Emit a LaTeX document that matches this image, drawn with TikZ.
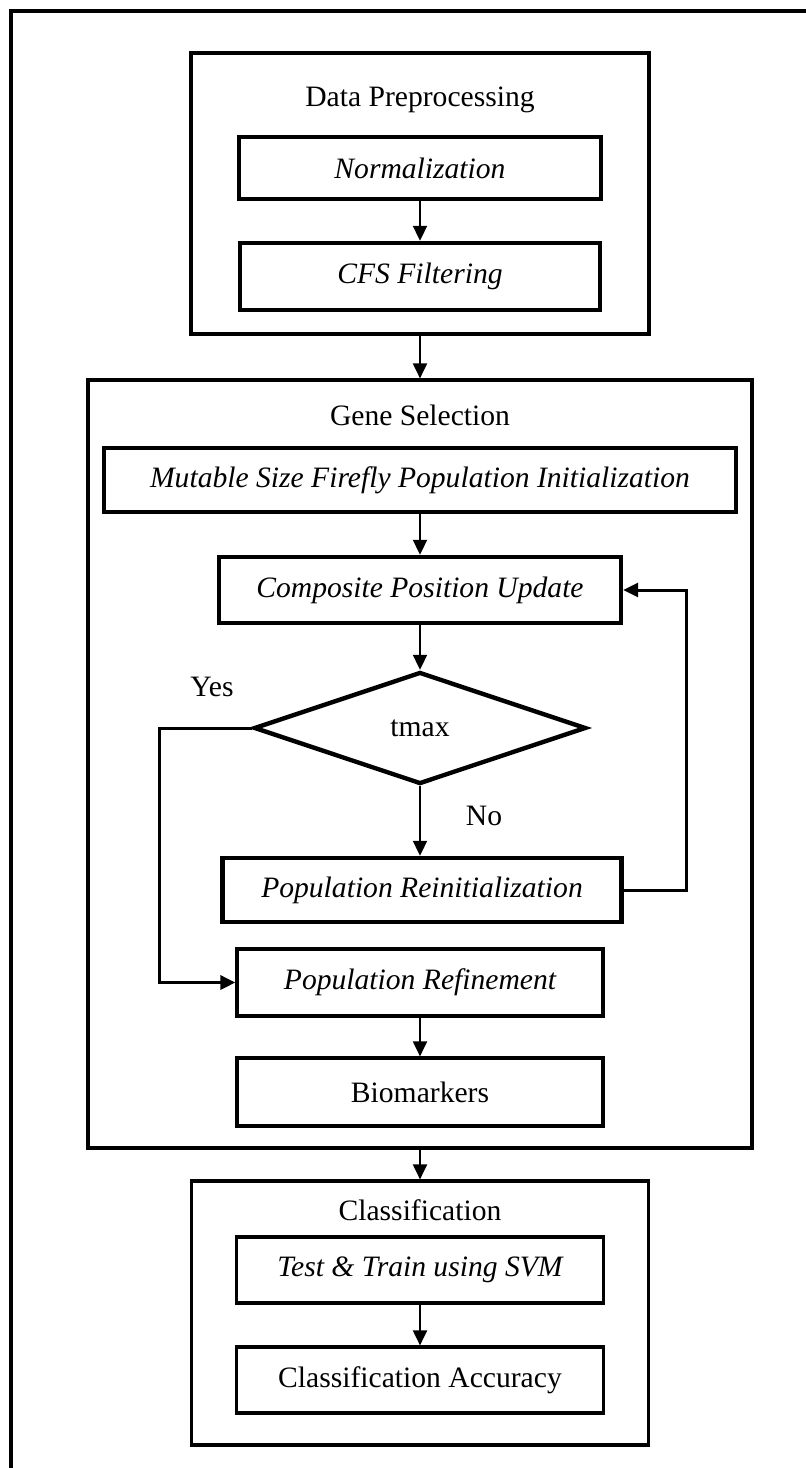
\documentclass[tikz,border=0pt]{standalone}
\usepackage{fontspec}
\setmainfont{Liberation Serif}
\usetikzlibrary{arrows.meta,positioning,shapes.geometric}

\begin{document}
\fontsize{14.8}{17}\selectfont
\begin{tikzpicture}[
    x=0.5pt, y=-0.5pt, %one unit is one pixel of the page, y downwards
    inner sep=0pt, %boxes have fixed sizes
    frame/.style={draw,line width=1.7pt},
    groupbox/.style={draw,line width=1.6pt},
    stagebox/.style={draw,line width=2.2pt,font=\itshape},
    thinstage/.style={draw,line width=1.6pt,font=\itshape},
    plainbox/.style={draw,line width=1.6pt},
    decision/.style={diamond,draw,line width=2.2pt,aspect=3},
    flow/.style={-{Triangle[length=7.5pt,width=7pt]},line width=1pt},
    loop/.style={flow,line width=1.5pt},
    ]
    \useasboundingbox (0,0) rectangle (806,1468);

    %Outer frame
    \draw[frame] (11,1480) -- (11,11) -- (820,11);

    %Data preprocessing
    \node[groupbox, minimum width=229pt, minimum height=140.5pt] (prep) at (420,193.5) {};
    \node (preptitle) at (420,100) {Data Preprocessing};
    \node[stagebox, minimum width=181pt, minimum height=31pt] (norm) at (420,168) {Normalization};
    \node[stagebox, minimum width=180pt, minimum height=33.5pt] (cfs) at (420,276.5) {CFS Filtering};

    %Gene selection
    \node[groupbox, minimum width=332pt, minimum height=384pt] (gene) at (420,764) {};
    \node (genetitle) at (420,415) {Gene Selection};
    \node[stagebox, minimum width=316pt, minimum height=32pt] (init) at (420,480) {Mutable Size Firefly Population Initialization};
    \node[stagebox, minimum width=201pt, minimum height=33pt] (update) at (420,590) {Composite Position Update};
    \node[decision, minimum width=166pt, minimum height=56pt] (tmax) at (420,728) {tmax};
    \node (yes) at (212,687) {Yes};
    \node (no) at (484,816) {No};
    \node[stagebox, minimum width=199.5pt, minimum height=32pt] (reinit) at (422,890) {Population Reinitialization};
    \node[thinstage, minimum width=183pt, minimum height=33.5pt] (refine) at (420,982.5) {Population Refinement};
    \node[plainbox, minimum width=183pt, minimum height=34pt] (bio) at (420,1092) {Biomarkers};

    %Classification
    \node[groupbox, minimum width=228.5pt, minimum height=132pt] (class) at (420,1313) {};
    \node (classtitle) at (420,1210) {Classification};
    \node[thinstage, minimum width=183.5pt, minimum height=33pt] (svm) at (420,1270) {Test \& Train using SVM};
    \node[plainbox, minimum width=183.5pt, minimum height=33pt] (acc) at (420,1380) {Classification Accuracy};

    %Connectors
    \draw[flow] (norm) -- (cfs);
    \draw[flow] (prep) -- (gene);
    \draw[flow] (init) -- (update);
    \draw[flow] (update) -- (tmax);
    \draw[flow] (tmax.south) -- (tmax.south |- reinit.north);
    \draw[loop] (tmax.west) -- ++(-92,0) |- (refine.west);
    \draw[loop] (reinit.east) -- ++(63,0) |- (update.east);
    \draw[flow] (refine) -- (bio);
    \draw[flow] (gene) -- (class);
    \draw[flow] (svm) -- (acc);

\end{tikzpicture}
\end{document}
